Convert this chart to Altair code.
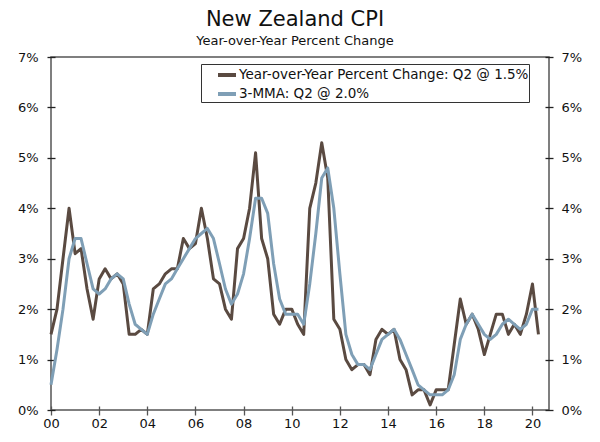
import altair as alt
import pandas as pd

# Quarterly observations, 2000 Q1 .. 2020 Q2
start_year = 2000
n_quarters = 82
yoy = [
    1.5, 2.0, 3.0, 4.0,
    3.1, 3.2, 2.4, 1.8,
    2.6, 2.8, 2.6, 2.7,
    2.5, 1.5, 1.5, 1.6,
    1.5, 2.4, 2.5, 2.7,
    2.8, 2.8, 3.4, 3.2,
    3.3, 4.0, 3.4, 2.6,
    2.5, 2.0, 1.8, 3.2,
    3.4, 4.0, 5.1, 3.4,
    3.0, 1.9, 1.7, 2.0,
    2.0, 1.7, 1.5, 4.0,
    4.5, 5.3, 4.6, 1.8,
    1.6, 1.0, 0.8, 0.9,
    0.9, 0.7, 1.4, 1.6,
    1.5, 1.6, 1.0, 0.8,
    0.3, 0.4, 0.4, 0.1,
    0.4, 0.4, 0.4, 1.3,
    2.2, 1.7, 1.9, 1.6,
    1.1, 1.5, 1.9, 1.9,
    1.5, 1.7, 1.5, 1.9,
    2.5, 1.5,
]
mma = [
    0.5, 1.2, 2.0, 3.0,
    3.4, 3.4, 2.9, 2.4,
    2.3, 2.4, 2.6, 2.7,
    2.6, 2.1, 1.7, 1.6,
    1.5, 1.9, 2.2, 2.5,
    2.6, 2.8, 3.0, 3.2,
    3.4, 3.5, 3.6, 3.4,
    2.9, 2.4, 2.1, 2.3,
    2.7, 3.4, 4.2, 4.2,
    3.9, 2.9, 2.2, 1.9,
    1.9, 1.9, 1.7, 2.5,
    3.5, 4.6, 4.8, 4.0,
    2.7, 1.5, 1.1, 0.9,
    0.9, 0.8, 1.1, 1.4,
    1.5, 1.6, 1.4, 1.1,
    0.8, 0.5, 0.4, 0.3,
    0.3, 0.3, 0.4, 0.7,
    1.4, 1.7, 1.9, 1.7,
    1.5, 1.4, 1.5, 1.7,
    1.8, 1.7, 1.6, 1.7,
    2.0, 2.0,
]
series_names = ["Year-over-Year Percent Change: Q2 @ 1.5%", "3-MMA: Q2 @ 2.0%"]
line_colors = ["#5a4a41", "#7f9fb6"]
x_tick_years = list(range(2000, 2021, 2))
y_ticks = [0, 1, 2, 3, 4, 5, 6, 7]

dates = [f"{start_year + i // 4}-{3 * (i % 4) + 1:02d}-01T00:00:00" for i in range(n_quarters)]
rows = []
for name, vals in zip(series_names, [yoy, mma]):
    for d, v in zip(dates, vals):
        rows.append({"date": d, "value": v, "series": name})
df = pd.DataFrame(rows)

FONT = "DejaVu Sans"

x_enc = alt.X(
    "date:T",
    scale=alt.Scale(domain=[alt.DateTime(year=2000, month=1, date=1),
                            alt.DateTime(year=2020, month=9, date=8)]),
    axis=alt.Axis(
        values=[alt.DateTime(year=y, month=1, date=1) for y in x_tick_years],
        format="%y", title=None, grid=False, domain=False, labelFlush=False,
        tickSize=9, offset=-4, tickColor="#555", tickWidth=1.3,
        labelPadding=2, labelFont=FONT, labelFontSize=13, labelColor="#111",
    ),
)

def y_enc(orient, pad):
    return alt.Y(
        "value:Q",
        scale=alt.Scale(domain=[0, 7], nice=False, zero=True),
        axis=alt.Axis(
            orient=orient, values=y_ticks, labelExpr="datum.value + '%'",
            title=None, grid=False, domain=False,
            tickSize=8, offset=-4, tickColor="#222", tickWidth=1.3,
            labelPadding=pad, labelFont=FONT, labelFontSize=13, labelColor="#111",
        ),
    )

lines = alt.Chart(df).mark_line(strokeWidth=3, strokeJoin="round").encode(
    x=x_enc,
    y=y_enc("left", 9),
    color=alt.Color(
        "series:N",
        scale=alt.Scale(domain=series_names, range=line_colors),
        legend=alt.Legend(
            title=None, orient="none", legendX=150, legendY=7,
            direction="vertical", padding=0,
            symbolType="stroke", symbolSize=324, symbolStrokeWidth=4,
            symbolOffset=15, labelOffset=1, rowPadding=0,
            strokeColor="#333", fillColor="white",
            labelFont=FONT, labelFontSize=13.5, labelColor="#111", labelLimit=600,
            labelExpr="datum.label + '\u2002\u2002\u2002'",
        ),
    ),
)

right_axis = alt.Chart(df).mark_line(opacity=0).encode(
    x=x_enc,
    y=y_enc("right", 8),
    detail="series:N",
)

chart = (
    alt.layer(lines, right_axis)
    .resolve_axis(y="independent")
    .properties(
        width=498, height=353,
        autosize=alt.AutoSizeParams(type="none"),
        padding={"left": 43, "top": 49, "right": 40, "bottom": 20},
        title=alt.Title(
            "New Zealand CPI", subtitle="Year-over-Year Percent Change",
            font=FONT, fontSize=21, fontWeight="normal", color="#111",
            subtitleFont=FONT, subtitleFontSize=13, subtitleColor="#111",
            subtitlePadding=5, anchor="middle", offset=3, dx=-5,
        ),
    )
    .configure_view(stroke="#555", strokeWidth=1.5)
)

chart.save("out.html", embed_options={"renderer": "svg", "actions": False})
